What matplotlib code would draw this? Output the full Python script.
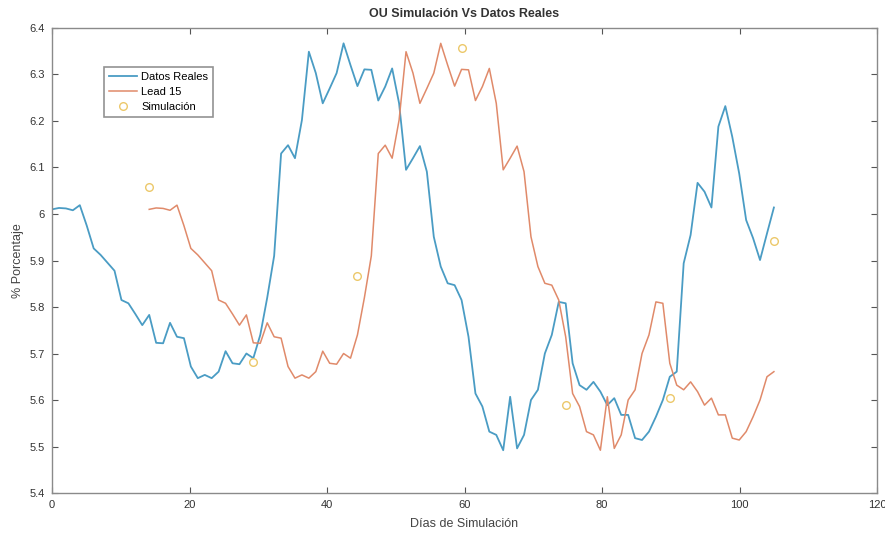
import matplotlib
matplotlib.use("Agg")
import matplotlib.pyplot as plt
import numpy as np
from matplotlib.ticker import FormatStrFormatter

# datos reales (dias 0..105)
datos_reales = [6.010, 6.013, 6.012, 6.008, 6.019, 5.975, 5.926, 5.912, 5.895, 5.878,
                5.815, 5.808, 5.785, 5.761, 5.783, 5.723, 5.722, 5.766, 5.736, 5.733,
                5.672, 5.647, 5.654, 5.647, 5.661, 5.705, 5.679, 5.677, 5.700, 5.690,
                5.740, 5.820, 5.910, 6.130, 6.148, 6.120, 6.202, 6.349, 6.303, 6.238,
                6.270, 6.303, 6.367, 6.320, 6.275, 6.311, 6.310, 6.244, 6.274, 6.313,
                6.238, 6.095, 6.120, 6.146, 6.091, 5.951, 5.887, 5.851, 5.847, 5.815,
                5.736, 5.614, 5.586, 5.532, 5.525, 5.492, 5.607, 5.496, 5.525, 5.600,
                5.622, 5.700, 5.740, 5.811, 5.808, 5.679, 5.632, 5.622, 5.639, 5.618,
                5.589, 5.604, 5.568, 5.568, 5.518, 5.514, 5.532, 5.564, 5.600, 5.650,
                5.661, 5.894, 5.955, 6.067, 6.048, 6.014, 6.188, 6.232, 6.166, 6.087,
                5.987, 5.948, 5.901, 5.958, 6.014]
lead = 14
sim_idx = [14, 29, 44, 59, 74, 89, 104]
sim_val = [6.057, 5.682, 5.867, 6.356, 5.589, 5.605, 5.943]

dias = np.linspace(0, 105, len(datos_reales))
datos_reales = np.array(datos_reales)

plt.rcParams['font.family'] = ['Liberation Sans', 'DejaVu Sans']

fig = plt.figure(figsize=(8.85, 5.33), dpi=100)
ax = fig.add_axes([0.0588, 0.075, 0.9322, 0.8725])

ax.plot(dias, datos_reales, color="#4a9cc4", lw=1.3, label="Datos Reales")
ax.plot(dias[lead:], datos_reales[:-lead], color="#e08a6a", lw=1.1, label="Lead 15")
ax.plot(dias[sim_idx], sim_val, "o", mfc="none", mec="#ecc86a", ms=5.5, mew=1.0,
        label="Simulación", ls="none")

ax.set_xlim(0, 120)
ax.set_ylim(5.4, 6.4)
ax.set_xticks(np.arange(0, 121, 20))
ax.set_yticks(np.arange(5.4, 6.41, 0.1))
ax.yaxis.set_major_formatter(FormatStrFormatter("%g"))
ax.tick_params(direction="in", top=True, right=True, labelsize=8, colors="#555555",
               labelcolor="#333333", length=4, pad=5)
for s in ax.spines.values():
    s.set_color("#8a8a8a")
    s.set_linewidth(1.0)

ax.set_title("OU Simulación Vs Datos Reales", fontsize=9, fontweight="bold",
             color="#333333", pad=8)
ax.set_xlabel("Días de Simulación", fontsize=9, color="#444444", labelpad=6)
ax.set_ylabel("% Porcentaje", fontsize=9, color="#444444", labelpad=4)

leg = ax.legend(loc="upper left", bbox_to_anchor=(0.056, 0.928), fontsize=8,
                frameon=True, fancybox=False, edgecolor="#777777",
                handlelength=2.5, borderpad=0.45, labelspacing=0.45, handletextpad=0.4)
leg.get_frame().set_linewidth(1.2)

fig.savefig("out.png", dpi=100)
